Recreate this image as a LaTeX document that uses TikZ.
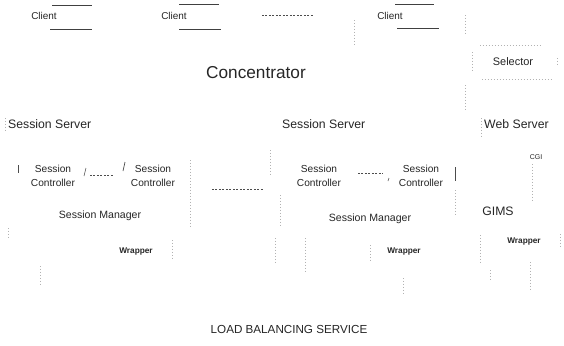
\documentclass[tikz,border=0pt]{standalone}
\usepackage{fontspec}
\setmainfont{Liberation Sans}
\begin{document}
\begin{tikzpicture}[x=1bp,y=-1bp,
  lbl/.style={inner sep=0pt,text=black!85,font=\fontsize{10}{11}\selectfont},
  big/.style={lbl,font=\fontsize{12.3}{14}\selectfont},
  small/.style={lbl,font=\fontsize{8.3}{9}\selectfont\bfseries},
  ctl/.style={lbl,align=center,font=\fontsize{10.2}{14}\selectfont},
  bar/.style={line width=0.9pt,black!75},
  tick/.style={black!70,line width=0.7pt},
  dsh/.style={black!70,line width=0.5pt,dash pattern=on 2pt off 1.5pt},
  faint/.style={black!30,line width=0.5pt,dash pattern=on 1pt off 2pt}]
\useasboundingbox[fill=white] (0,0) rectangle (564,345);

% clients
\node[lbl] (c1) at (44,16) {Client};
\node[lbl] (c2) at (174,16) {Client};
\node[lbl] (c3) at (390,16) {Client};
\draw[bar] (52,5) -- (92,5);   \draw[bar] (50,29) -- (92,29);
\draw[bar] (179,4) -- (219,4); \draw[bar] (179,29) -- (221,29);
\draw[bar] (395,4) -- (434,4); \draw[bar] (397,28) -- (439,28);
\coordinate (d1a) at (262,15); \coordinate (d1b) at (314,15);
\draw[dsh] (d1a) -- (d1b);

% concentrator, selector
\node[lbl,font=\fontsize{17.3}{19}\selectfont] (conc) at (256,73) {Concentrator};
\node[lbl,font=\fontsize{11}{12}\selectfont] (sel) at (513,62) {Selector};
\draw[faint] (480,45) -- (540,45);
\draw[faint] (482,79) -- (552,79);
\draw[faint] (472,52) -- (472,70);
\draw[faint] (557,58) -- (557,66);
\draw[faint] (465,15) -- (465,35);
\draw[faint] (354,20) -- (354,45);
\draw[faint] (465,85) -- (465,110);

% servers
\node[big,anchor=west] (ss1) at (8,124) {Session Server};
\node[big,anchor=west] (ss2) at (282,124) {Session Server};
\node[big,anchor=west] (ws) at (484,124) {Web Server};
\draw[faint] (5,118) -- (5,130);
\draw[faint] (481,118) -- (481,136);

% controllers
\node[ctl] (sc1) at (53,176) {Session\\Controller};
\node[ctl] (sc2) at (153,176) {Session\\Controller};
\node[ctl] (sc3) at (319,176) {Session\\Controller};
\node[ctl] (sc4) at (421,176) {Session\\Controller};
\draw[tick] (18,165) -- (18,173);
\draw[tick] (123,171) -- (125,162);
\draw[tick,line width=0.6pt] (84,176) -- (86,168);
\draw[tick] (455,167) -- (455,181);
\draw[tick,line width=0.6pt] (389,178) -- (388,181);
\coordinate (d2a) at (90,175); \coordinate (d2b) at (114,175);
\draw[dsh] (d2a) -- (d2b);
\coordinate (d3a) at (358,173); \coordinate (d3b) at (383,173);
\draw[dsh] (d3a) -- (d3b);
\coordinate (d4a) at (212,189); \coordinate (d4b) at (263,189);
\draw[dsh] (d4a) -- (d4b);
\draw[faint] (190,160) -- (190,228);
\draw[faint] (280,195) -- (280,226);
\draw[faint] (270,150) -- (270,175);
\draw[faint] (8,228) -- (8,238);
\draw[faint] (455,190) -- (455,215);

% CGI, GIMS
\node[lbl,font=\fontsize{7}{8}\selectfont] (cgi) at (536,157) {CGI};
\draw[faint] (532,164) -- (532,200);
\node[big] (gims) at (498,211) {GIMS};

% managers & wrappers
\node[lbl,font=\fontsize{10.6}{12}\selectfont] (sm1) at (100,216) {Session Manager};
\node[lbl,font=\fontsize{10.6}{12}\selectfont] (sm2) at (370,219) {Session Manager};
\node[small] (w1) at (136,252) {Wrapper};
\node[small] (w2) at (404,252) {Wrapper};
\node[small] (w3) at (524,242) {Wrapper};
\draw[faint] (172,240) -- (172,260);
\draw[faint] (275,238) -- (275,262);
\draw[faint] (40,266) -- (40,286);
\draw[faint] (305,238) -- (305,272);
\draw[faint] (370,245) -- (370,260);
\draw[faint] (403,278) -- (403,295);
\draw[faint] (480,235) -- (480,262);
\draw[faint] (490,270) -- (490,280);
\draw[faint] (560,234) -- (560,248);
\draw[faint] (530,262) -- (530,290);

\node[lbl,font=\fontsize{11.7}{13}\selectfont] (lbs) at (289,329) {LOAD BALANCING SERVICE};
\end{tikzpicture}
\end{document}
